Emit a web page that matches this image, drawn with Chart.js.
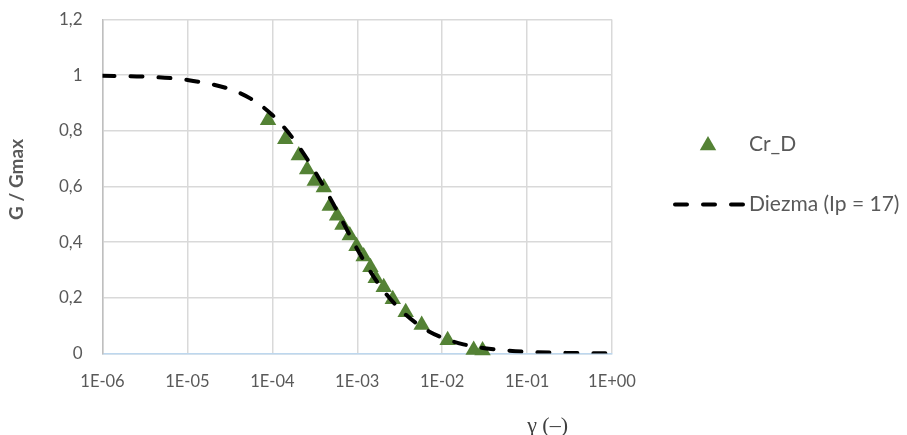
<!DOCTYPE html>
<html>
<head>
<meta charset="utf-8">
<script src="https://cdn.jsdelivr.net/npm/chart.js@4.4.1/dist/chart.umd.min.js"></script>
<style>
  body { margin: 0; background: #fff; }
  #wrap { width: 907px; height: 435px; }
</style>
</head>
<body>
<div id="wrap"><canvas id="myChart" width="907" height="435"></canvas></div>
<script>
// Cr_D test points (shear strain, G/Gmax)
const strainCr = [8.9e-5, 1.42e-4, 2.05e-4, 2.57e-4, 3.16e-4, 4.04e-4, 4.74e-4, 5.79e-4, 6.7e-4, 8.17e-4,
                  9.8e-4, 1.19e-3, 1.43e-3, 1.65e-3, 2.05e-3, 2.62e-3, 3.72e-3, 5.74e-3, 1.16e-2, 2.35e-2, 2.99e-2];
const ratioCr = [0.838, 0.77, 0.712, 0.661, 0.62, 0.597, 0.53, 0.495, 0.462, 0.424,
                 0.385, 0.349, 0.31, 0.27, 0.238, 0.195, 0.148, 0.102, 0.048, 0.013, 0.011];

// Diezma (Ip = 17) curve
const strainFit = [1e-6, 3.16e-6, 1e-5, 3.16e-5, 5.62e-5, 1e-4, 1.78e-4, 3.16e-4, 5.62e-4, 1e-3,
                   1.78e-3, 3.16e-3, 5.62e-3, 1e-2, 1.78e-2, 3.16e-2, 5.62e-2, 1e-1, 3.16e-1, 1];
const ratioFit = [0.998, 0.995, 0.983, 0.95, 0.915, 0.857, 0.77, 0.655, 0.52, 0.375,
                  0.25, 0.16, 0.097, 0.057, 0.033, 0.019, 0.011, 0.006, 0.002, 0.001];

const xTickValues = [1e-6, 1e-5, 1e-4, 1e-3, 1e-2, 1e-1, 1];
const xTickLabels = ['1E-06', '1E-05', '1E-04', '1E-03', '1E-02', '1E-01', '1E+00'];
const yTickValues = [0, 0.2, 0.4, 0.6, 0.8, 1, 1.2];
const yTickLabels = ['0', '0,2', '0,4', '0,6', '0,8', '1', '1,2'];

const ctx = document.getElementById('myChart');
const grey = '#595959';
const gridColor = '#d9d9d9';
const green = '#548235';

function pts(xs, ys) {
  var out = [];
  for (var i = 0; i < xs.length; i++) {
    out.push({x: xs[i], y: ys[i]});
  }
  return out;
}

// legend drawn by hand on the right, Excel style (marker + dashed line)
const sideLegend = {
  id: 'sideLegend',
  afterDraw(chart) {
    const c = chart.ctx;
    const a = chart.chartArea;
    const sets = chart.data.datasets;
    const textX = a.right + 137;
    c.save();
    c.font = '21px Lato';
    c.fillStyle = grey;
    c.textBaseline = 'middle';
    c.textAlign = 'left';

    // Cr_D : triangle
    var y = a.top + 126;
    var cx = a.right + 96;
    var r = 9.5;
    c.beginPath();
    c.moveTo(cx, y - r);
    c.lineTo(cx + r * Math.sin(Math.PI / 3), y + r / 2);
    c.lineTo(cx - r * Math.sin(Math.PI / 3), y + r / 2);
    c.closePath();
    c.fillStyle = green;
    c.fill();
    c.fillStyle = grey;
    c.fillText(sets[0].label, textX, y - 1);

    // Diezma : dashed line
    y = a.top + 185;
    c.strokeStyle = '#000000';
    c.lineWidth = 4;
    c.lineCap = 'round';
    c.setLineDash([12, 16]);
    c.beginPath();
    c.moveTo(a.right + 63, y);
    c.lineTo(a.right + 131, y);
    c.stroke();
    c.fillText(sets[1].label, textX, y);
    c.restore();
  }
};

new Chart(ctx, {
  type: 'scatter',
  data: {
    datasets: [{
      label: 'Cr_D',
      data: pts(strainCr, ratioCr),
      pointStyle: 'triangle',
      pointRadius: 9.5,
      pointHoverRadius: 9.5,
      backgroundColor: green,
      borderColor: green,
      borderWidth: 0,
      clip: false,
      order: 1
    }, {
      label: 'Diezma (Ip = 17)',
      type: 'line',
      data: pts(strainFit, ratioFit),
      borderColor: '#000000',
      borderWidth: 4,
      borderDash: [12, 16],
      borderCapStyle: 'round',
      cubicInterpolationMode: 'monotone',
      pointRadius: 0,
      fill: false,
      order: 0
    }]
  },
  options: {
    responsive: false,
    animation: false,
    devicePixelRatio: 1,
    layout: { padding: { top: 0, left: 0, right: 295, bottom: 0 } },
    plugins: {
      tooltip: { enabled: false },
      legend: { display: false }
    },
    scales: {
      x: {
        type: 'logarithmic',
        min: 1e-6,
        max: 1,
        afterBuildTicks: (s) => { s.ticks = xTickValues.map(v => ({value: v})); },
        afterFit: (s) => { s.height = 81.5; },
        ticks: {
          autoSkip: false,
          maxRotation: 0,
          padding: 18,
          color: grey,
          font: { family: 'Lato', size: 16.5 },
          callback: (v, i) => xTickLabels[i]
        },
        grid: { color: gridColor, lineWidth: 1.5, drawTicks: false },
        border: { color: '#bdd7ee', width: 1.5 },
        title: {
          display: true,
          text: 'γ (–)        ',
          align: 'end',
          color: '#404040',
          font: { family: 'Liberation Serif', size: 22 },
          padding: { top: 14, bottom: -4 }
        }
      },
      y: {
        min: 0,
        max: 1.2,
        afterBuildTicks: (s) => { s.ticks = yTickValues.map(v => ({value: v})); },
        afterFit: (s) => { s.width = 102.5; s.paddingTop = 19.6; },
        ticks: {
          padding: 20,
          color: grey,
          font: { family: 'Lato', size: 17 },
          callback: (v, i) => yTickLabels[i]
        },
        grid: { color: gridColor, lineWidth: 1.5, drawTicks: false },
        border: { color: '#bfbfbf', width: 1.5 },
        title: {
          display: true,
          text: '\u2003G / Gmax',
          color: grey,
          font: { family: 'Lato', size: 19, weight: 'bold' },
          padding: { top: 5, bottom: 0 }
        }
      }
    }
  },
  plugins: [sideLegend]
});
</script>
</body>
</html>
